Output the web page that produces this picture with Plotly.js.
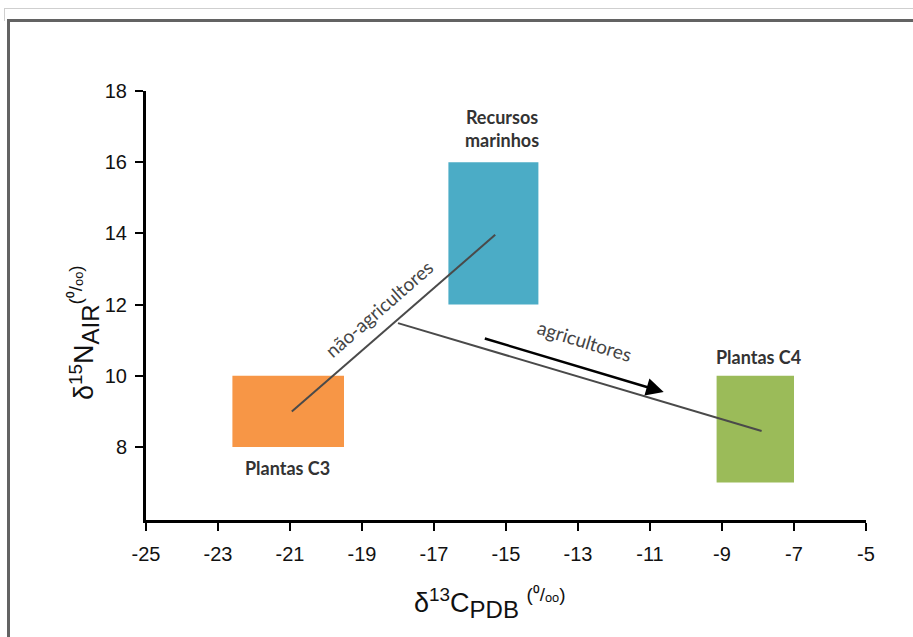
<!DOCTYPE html>
<html>
<head>
<meta charset="utf-8">
<script src="https://cdn.plot.ly/plotly-3.0.1.min.js"></script>
<style>
  html, body { margin: 0; padding: 0; background: #fff; }
  #wrap { position: relative; width: 913px; height: 637px; overflow: hidden; }
  #chart { position: absolute; left: 0; top: 0; width: 913px; height: 637px; }
  .frame { position: absolute; pointer-events: none; }
</style>
</head>
<body>
<div id="wrap">
  <div id="chart"></div>
  <div class="frame" style="left:4px; top:8px; width:909px; height:12px; border-top:1px solid #cfcfcf; border-left:1px solid #cfcfcf;"></div>
  <div class="frame" style="left:7px; top:19px; width:906px; height:618px; border-top:3px solid #636363; border-left:3px solid #636363;"></div>
</div>
<script>
// ---- data ----
const xTicks = [-25, -23, -21, -19, -17, -15, -13, -11, -9, -7, -5];
const yTicks = [8, 10, 12, 14, 16, 18];

const boxNames = ['Plantas C3', 'Recursos marinhos', 'Plantas C4'];
const boxX0 = [-22.6, -16.6, -9.15];
const boxX1 = [-19.5, -14.1, -7.0];
const boxY0 = [8, 12, 7];
const boxY1 = [10, 16, 10];
const boxColors = ['#F79646', '#4BACC6', '#9BBB59'];

const naoAgriX = [-20.95, -15.3];
const naoAgriY = [9.0, 13.96];
const agriX = [-18.0, -7.9];
const agriY = [11.48, 8.45];
const arrowX = [-15.63, -10.62];
const arrowY = [11.06, 9.545];

// ---- traces ----
const traces = [];
for (let i = 0; i < boxNames.length; i++) {
  traces.push({
    type: 'scatter', mode: 'lines', name: boxNames[i],
    x: [boxX0[i], boxX1[i], boxX1[i], boxX0[i], boxX0[i]],
    y: [boxY0[i], boxY0[i], boxY1[i], boxY1[i], boxY0[i]],
    fill: 'toself', fillcolor: boxColors[i],
    line: { width: 0, color: boxColors[i] }, hoverinfo: 'skip'
  });
}
traces.push({ type: 'scatter', mode: 'lines', x: naoAgriX, y: naoAgriY,
  line: { color: '#4a4a4a', width: 2 }, hoverinfo: 'skip' });
traces.push({ type: 'scatter', mode: 'lines', x: agriX, y: agriY,
  line: { color: '#4a4a4a', width: 2 }, hoverinfo: 'skip' });

const labelFont = { family: 'Lato, "Open Sans", sans-serif', size: 18, color: '#333333', weight: 'bold' };
const pathFont = { family: 'Lato, "Open Sans", sans-serif', size: 19, color: '#444444' };
const titleFont = { family: '"Liberation Sans", Arial, sans-serif', size: 27, color: '#111' };

const annotations = [
  { x: arrowX[1], y: arrowY[1], ax: arrowX[0], ay: arrowY[0], axref: 'x', ayref: 'y', xref: 'x', yref: 'y',
    showarrow: true, arrowhead: 2, arrowsize: 1.4, arrowwidth: 2.5, arrowcolor: '#000', text: '' },
  { x: -15.11, y: 16.95, xref: 'x', yref: 'y', text: '<b>Recursos<br>marinhos</b>', showarrow: false, font: labelFont },
  { x: -21.06, y: 7.41, xref: 'x', yref: 'y', text: '<b>Plantas C3</b>', showarrow: false, font: labelFont },
  { x: -8.0, y: 10.53, xref: 'x', yref: 'y', text: '<b>Plantas C4</b>', showarrow: false, font: labelFont },
  { x: -18.53, y: 11.9, xref: 'x', yref: 'y', text: 'não-agricultores', textangle: -41, showarrow: false, font: pathFont },
  { x: -12.83, y: 10.98, xref: 'x', yref: 'y', text: 'agricultores', textangle: 17, showarrow: false, font: pathFont },
  { x: (490 - 146) / 720, y: -(603 - 520) / 429, xref: 'paper', yref: 'paper', xanchor: 'center', yanchor: 'middle',
    showarrow: false,
    text: 'δ<sup>13</sup>C<sub><span style="font-size:24px">PDB</span></sub> <sup>(⁰/ₒₒ)</sup>',
    font: titleFont },
  { x: -(146 - 84) / 720, y: (520 - 333) / 429, xref: 'paper', yref: 'paper', xanchor: 'center', yanchor: 'middle',
    showarrow: false, textangle: -90,
    text: 'δ<sup>15</sup>N<sub><span style="font-size:24px">AIR</span></sub><sup>(⁰/ₒₒ)</sup>',
    font: titleFont }
];

const tickFont = { family: '"Liberation Sans", Arial, sans-serif', size: 20, color: '#111' };

const layout = {
  width: 913, height: 637,
  margin: { l: 146, r: 47, t: 91, b: 117 },
  paper_bgcolor: '#fff', plot_bgcolor: '#fff',
  showlegend: false,
  xaxis: {
    range: [-25, -5], tickvals: xTicks, ticktext: xTicks.map(String),
    showgrid: false, zeroline: false, showline: true, linecolor: '#000', linewidth: 3,
    ticks: 'outside', ticklen: 8, tickwidth: 2, tickcolor: '#000', ticklabelstandoff: 6,
    tickfont: tickFont, fixedrange: true
  },
  yaxis: {
    range: [5.95, 18], tickvals: yTicks, ticktext: yTicks.map(String),
    showgrid: false, zeroline: false, showline: true, linecolor: '#000', linewidth: 3,
    ticks: 'outside', ticklen: 8, tickwidth: 2, tickcolor: '#000', ticklabelstandoff: 4,
    tickfont: tickFont, fixedrange: true
  },
  annotations: annotations
};

Plotly.newPlot('chart', traces, layout, { displayModeBar: false, staticPlot: true });
</script>
</body>
</html>
